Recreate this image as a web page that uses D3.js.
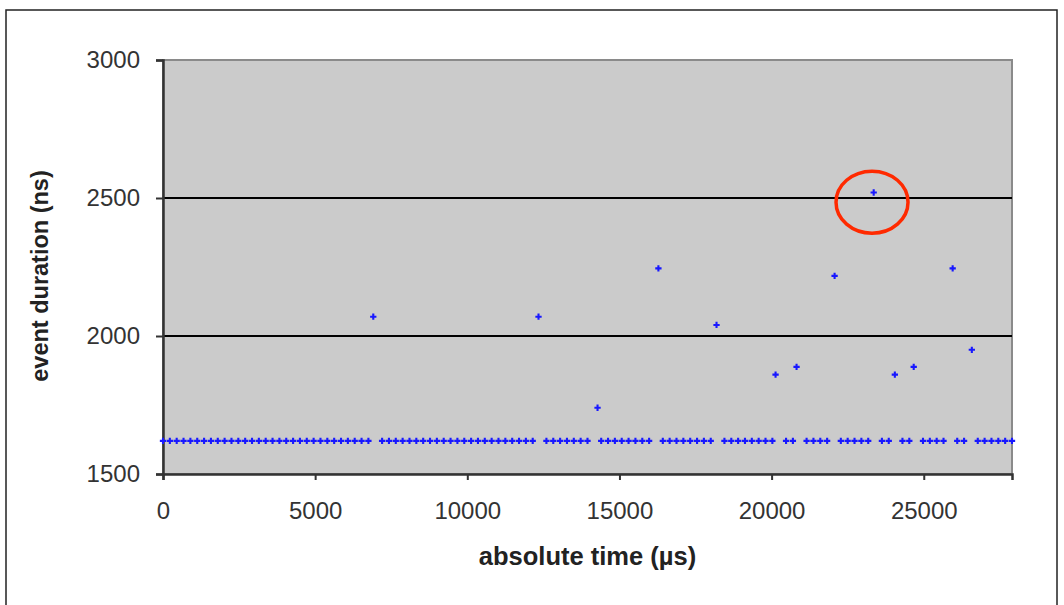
<!DOCTYPE html>
<html>
<head>
<meta charset="utf-8">
<script src="https://cdn.jsdelivr.net/npm/d3@7"></script>
<style>
  body { margin: 0; background: #fff; }
  svg text { font-family: "Liberation Sans", Arial, sans-serif; }
</style>
</head>
<body>
<div id="chart"></div>
<script>
// regular events, all at the base duration
let baseTimes = [
    0, 225, 450, 675, 900, 1125, 1350, 1575, 1800, 2025, 2250, 2475, 2700, 2925, 3150, 3375,
    3600, 3825, 4050, 4275, 4500, 4725, 4950, 5175, 5400, 5625, 5850, 6075, 6300, 6525, 6750,
    7200, 7425, 7650, 7875, 8100, 8325, 8550, 8775, 9000, 9225, 9450, 9675, 9900, 10125, 10350,
    10575, 10800, 11025, 11250, 11475, 11700, 11925, 12150,
    12600, 12825, 13050, 13275, 13500, 13725, 13950,
    14400, 14625, 14850, 15075, 15300, 15525, 15750, 15975,
    16425, 16650, 16875, 17100, 17325, 17550, 17775, 18000,
    18450, 18675, 18900, 19125, 19350, 19575, 19800, 20025,
    20475, 20700,
    21150, 21375, 21600, 21825,
    22275, 22500, 22725, 22950, 23175,
    23625, 23850,
    24300, 24525,
    24975, 25200, 25425, 25650,
    26100, 26325,
    26775, 27000, 27225, 27450, 27675, 27900
];
let baseDuration = 1620;

// longer events
let longTimes = [6910, 12340, 14280, 16280, 18190, 20130, 20820, 22070, 23355, 24050, 24670, 25950, 26580];
let longDurations = [2070, 2070, 1740, 2245, 2040, 1860, 1888, 2218, 2520, 1860, 1888, 2245, 1950];

let xTicks = [0, 5000, 10000, 15000, 20000, 25000];
let yTicks = [1500, 2000, 2500, 3000];
let gridValues = [2000, 2500];
let marked = { time: 23300, duration: 2485 };

let points = baseTimes.map(t => ({ t: t, v: baseDuration }))
    .concat(longTimes.map((t, i) => ({ t: t, v: longDurations[i] })));

let width = 1064, height = 605;
let plot = { left: 163, top: 60, right: 1012, bottom: 474 };

let svg = d3.select("#chart").append("svg")
    .attr("width", width)
    .attr("height", height);

// outer frame
svg.append("rect")
    .attr("x", 6).attr("y", 10)
    .attr("width", 1051).attr("height", 620)
    .attr("fill", "#fff")
    .attr("stroke", "#222")
    .attr("stroke-width", 1.5);

let x = d3.scaleLinear().domain([0, 27900]).range([plot.left, plot.right]);
let y = d3.scaleLinear().domain([1500, 3000]).range([plot.bottom, plot.top]);

// plot area
svg.append("rect")
    .attr("x", plot.left).attr("y", plot.top)
    .attr("width", plot.right - plot.left)
    .attr("height", plot.bottom - plot.top)
    .attr("fill", "#cbcbcb")
    .attr("stroke", "#8a8a8a")
    .attr("stroke-width", 2);

svg.append("g").selectAll("line")
    .data(gridValues)
    .enter()
    .append("line")
    .attr("x1", plot.left).attr("x2", plot.right)
    .attr("y1", d => y(d)).attr("y2", d => y(d))
    .attr("stroke", "#000")
    .attr("stroke-width", 2);

let xAxis = svg.append("g")
    .attr("transform", "translate(0," + plot.bottom + ")")
    .call(d3.axisBottom(x).tickValues(xTicks).tickSize(6).tickPadding(27).tickFormat(d3.format("d")));

let yAxis = svg.append("g")
    .attr("transform", "translate(" + plot.left + ",0)")
    .call(d3.axisLeft(y).tickValues(yTicks).tickSize(7).tickPadding(16).tickFormat(d3.format("d")));

[xAxis, yAxis].forEach(a => {
    a.select(".domain").attr("stroke", "#333").attr("stroke-width", 2.5);
    a.selectAll(".tick line").attr("stroke", "#333").attr("stroke-width", 2);
    a.selectAll(".tick text")
        .attr("font-size", 24)
        .attr("fill", "#333")
        .style("font-family", "'Liberation Sans', Arial, sans-serif");
});
xAxis.selectAll(".tick text").attr("dy", "0.5em");

// markers
svg.append("g").selectAll("path")
    .data(points)
    .enter()
    .append("path")
    .attr("transform", d => "translate(" + x(d.t) + "," + y(d.v) + ")")
    .attr("d", d3.symbol().type(d3.symbolCross).size(22))
    .attr("fill", "#1818ff");

// highlight ring
svg.append("ellipse")
    .attr("cx", x(marked.time))
    .attr("cy", y(marked.duration))
    .attr("rx", 36).attr("ry", 31)
    .attr("fill", "none")
    .attr("stroke", "#ff2a00")
    .attr("stroke-width", 3.5);

svg.append("text")
    .attr("x", (plot.left + plot.right) / 2)
    .attr("y", 565)
    .attr("text-anchor", "middle")
    .attr("font-size", 25.5)
    .attr("font-weight", "bold")
    .attr("fill", "#222")
    .text("absolute time (µs)");

svg.append("text")
    .attr("transform", "translate(48,276) rotate(-90)")
    .attr("text-anchor", "middle")
    .attr("font-size", 23.5)
    .attr("font-weight", "bold")
    .attr("fill", "#222")
    .text("event duration (ns)");
</script>
</body>
</html>
